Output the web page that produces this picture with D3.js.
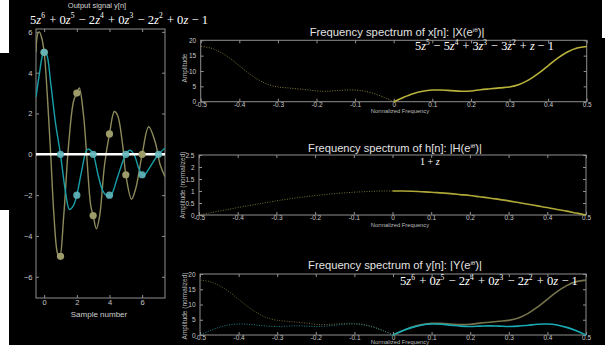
<!DOCTYPE html>
<html>
<head>
<meta charset="utf-8">
<script src="https://cdn.jsdelivr.net/npm/d3@7"></script>
<style>
  html, body { margin: 0; padding: 0; background: #fff; }
  svg { display: block; }
</style>
</head>
<body>
<div id="chart"></div>
<script>
// ---- time domain data ----
const sampleTicks = [0, 2, 4, 6];
const signalTicks = [-6, -4, -2, 0, 2, 4, 6];
const inputSamples = [5, -5, 3, -3, 1, -1, 0];        // x[n]
const outputSamples = [5, 0, -2, 0, -2, 0, -1, 0];    // y[n]

// smooth reconstructions
const inputCurveN = [-0.5, -0.4, -0.3, -0.15, 0, 0.2, 0.4, 0.6, 0.8, 0.95, 1.2, 1.5, 1.8, 2.0, 2.15, 2.4, 2.6, 2.85, 3.0, 3.2, 3.4, 3.7, 4.0, 4.3, 4.5, 4.8, 5.0, 5.35, 5.6, 6.0, 6.4, 6.8, 7.1, 7.4];
const inputCurveV = [5.0, 5.9, 6.0, 5.7, 5.0, 2.8, 0.0, -3.0, -4.8, -5.1, -3.0, 0.5, 2.6, 3.0, 3.25, 2.0, 0.0, -2.5, -3.0, -3.65, -3.0, -0.5, 1.0, 2.1, 1.9, 0.5, -1.0, -2.2, -1.7, 0.0, 1.35, 0.6, -0.5, -1.1];
const outputCurveN = [-0.5, -0.3, -0.1, 0, 0.15, 0.4, 0.7, 1.0, 1.3, 1.55, 1.8, 2.0, 2.3, 2.6, 2.75, 3.0, 3.3, 3.6, 3.9, 4.1, 4.5, 5.0, 5.25, 5.5, 5.8, 6.0, 6.1, 6.5, 7.0, 7.4];
const outputCurveV = [2.8, 3.9, 4.85, 5.0, 4.9, 3.5, 1.5, 0.0, -1.8, -2.7, -2.5, -2.0, -0.8, 0.2, 0.25, 0.0, -1.0, -1.8, -2.05, -2.0, -1.1, 0.0, 0.2, 0.0, -0.7, -1.0, -1.05, -0.6, 0.0, 0.3];

// ---- frequency domain data (positive half, mirrored for negative) ----
const freqTicks = [-0.5, -0.4, -0.3, -0.2, -0.1, 0, 0.1, 0.2, 0.3, 0.4, 0.5];
const ampTicks = [0, 5, 10, 15, 20];
const normTicks = [0, 0.5, 1, 1.5, 2, 2.5];
const freqs = [0, 0.025, 0.05, 0.075, 0.1, 0.125, 0.15, 0.175, 0.2, 0.225, 0.25, 0.275, 0.3, 0.325, 0.35, 0.375, 0.4, 0.425, 0.45, 0.475, 0.5];
const magX = [0, 1.4, 2.6, 3.4, 3.8, 3.8, 3.6, 3.4, 3.5, 3.9, 4.2, 4.5, 4.8, 5.6, 7.1, 9.2, 11.7, 14.2, 16.2, 17.5, 18.0];
const magH = [1, 1.0, 0.99, 0.97, 0.95, 0.92, 0.89, 0.85, 0.81, 0.76, 0.71, 0.65, 0.59, 0.52, 0.45, 0.38, 0.31, 0.23, 0.16, 0.08, 0];
const magY = [0, 1.4, 2.5, 3.3, 3.6, 3.5, 3.2, 2.9, 2.8, 2.9, 3.0, 2.9, 2.8, 2.9, 3.2, 3.5, 3.6, 3.3, 2.5, 1.4, 0];

const W = 605, H = 345;
const sans = "'Liberation Sans', Arial, sans-serif";
const serif = "'Liberation Serif', 'Times New Roman', serif";

const svg = d3.select("#chart").append("svg")
  .attr("width", W).attr("height", H);

svg.append("rect").attr("width", W).attr("height", H).attr("fill", "#000");
// white bits of page showing around the pasted panels
svg.append("rect").attr("x", 0).attr("y", 0).attr("width", 9).attr("height", 53).attr("fill", "#fff");
svg.append("rect").attr("x", 0).attr("y", 210).attr("width", 9).attr("height", 135).attr("fill", "#fff");
svg.append("rect").attr("x", 602).attr("y", 0).attr("width", 3).attr("height", 38).attr("fill", "#fff");

const defs = svg.append("defs");

// polynomial text: z in italic, ^d as superscript, then squeezed into [x0, x1]
function poly(str, x0, x1, cy, size) {
  const t = svg.append("text")
    .attr("x", x0).attr("y", cy + size * 0.33)
    .attr("font-family", serif).attr("font-size", size)
    .attr("fill", "#fff");
  let i = 0;
  while (i < str.length) {
    const c = str[i];
    if (c === "z") {
      t.append("tspan").attr("font-style", "italic").text("z");
      i++;
    } else if (c === "^") {
      t.append("tspan").attr("dy", -size * 0.42).attr("font-size", size * 0.6).text(str[i + 1]);
      t.append("tspan").attr("dy", size * 0.42).text("\u200A");
      i += 2;
    } else {
      let j = i;
      while (j < str.length && str[j] !== "z" && str[j] !== "^") j++;
      t.append("tspan").text(str.slice(i, j));
      i = j;
    }
  }
  const w = t.node().getBBox().width;
  t.attr("font-size", size * (x1 - x0) / w);
  t.selectAll("tspan").each(function () {
    const s = d3.select(this);
    if (s.attr("font-size")) s.attr("font-size", size * 0.6 * (x1 - x0) / w);
  });
  return t;
}

function title(parts, cx, cy, width, size) {
  const t = svg.append("text")
    .attr("x", cx).attr("y", cy + size * 0.35)
    .attr("text-anchor", "middle")
    .attr("font-family", sans).attr("font-size", size)
    .attr("fill", "#e2e2e2");
  t.append("tspan").text(parts[0]);
  t.append("tspan").attr("dy", -size * 0.38).attr("font-size", size * 0.55).text(parts[1]);
  t.append("tspan").attr("dy", size * 0.38).text(parts[2]);
  const w = t.node().getBBox().width;
  const k = width / w;
  t.attr("font-size", size * k);
  t.select("tspan:nth-child(2)").attr("font-size", size * 0.55 * k);
  return t;
}

// box with inward ticks on all four sides
function boxAxes(g, x, y, xt, yt, xfmt, yfmt, fs, xpad, ypad) {
  const [x0, x1] = x.range();
  const [y0, y1] = y.range();
  const axisCol = "#8f8f8f";
  g.append("g").attr("transform", `translate(0,${y0})`)
    .call(d3.axisBottom(x).tickValues(xt).tickSizeInner(-3).tickSizeOuter(0).tickPadding(xpad).tickFormat(xfmt));
  g.append("g").attr("transform", `translate(0,${y1})`)
    .call(d3.axisTop(x).tickValues(xt).tickSizeInner(-3).tickSizeOuter(0).tickFormat(""));
  g.append("g").attr("transform", `translate(${x0},0)`)
    .call(d3.axisLeft(y).tickValues(yt).tickSizeInner(-3).tickSizeOuter(0).tickPadding(ypad).tickFormat(yfmt));
  g.append("g").attr("transform", `translate(${x1},0)`)
    .call(d3.axisRight(y).tickValues(yt).tickSizeInner(-3).tickSizeOuter(0).tickFormat(""));
  g.selectAll(".domain").remove();
  g.selectAll(".tick line").attr("stroke", axisCol);
  g.selectAll(".tick text").attr("fill", "#c8c8c8").attr("font-family", sans).attr("font-size", fs);
  g.append("rect").attr("x", x0).attr("y", y1).attr("width", x1 - x0).attr("height", y0 - y1)
    .attr("fill", "none").attr("stroke", axisCol).attr("stroke-width", 1);
}

// ---------- left panel: output signal ----------
const xs = d3.scaleLinear().domain([-0.5, 7.4]).range([36, 165]);
const ys = d3.scaleLinear().domain([-7.04, 6.14]).range([298, 29]);
const left = svg.append("g");

defs.append("clipPath").attr("id", "clipL").append("rect")
  .attr("x", 36).attr("y", 29).attr("width", 129).attr("height", 269);

boxAxes(left, xs, ys, sampleTicks, signalTicks, d3.format("d"), d3.format("d"), 7.5, 2, 3.5);

const tline = d3.line().x(d => xs(d[0])).y(d => ys(d[1])).curve(d3.curveCatmullRom.alpha(0.5));
const plotL = left.append("g").attr("clip-path", "url(#clipL)");
plotL.append("path").datum(d3.zip(inputCurveN, inputCurveV)).attr("d", tline)
  .attr("fill", "none").attr("stroke", "#8d8b5c").attr("stroke-width", 1.4);
plotL.append("path").datum(d3.zip(outputCurveN, outputCurveV)).attr("d", tline)
  .attr("fill", "none").attr("stroke", "#17a0aa").attr("stroke-width", 1.4);
plotL.append("line").attr("x1", xs(-0.5)).attr("x2", xs(7.4)).attr("y1", ys(0)).attr("y2", ys(0))
  .attr("stroke", "#fff").attr("stroke-width", 2.5);

plotL.selectAll(".dotx").data(inputSamples).enter().append("circle")
  .attr("cx", (d, i) => xs(i)).attr("cy", d => ys(d)).attr("r", 3.6)
  .attr("fill", "#9d9b69");
plotL.selectAll(".doty").data(outputSamples).enter().append("circle")
  .attr("cx", (d, i) => xs(i)).attr("cy", d => ys(d)).attr("r", 3.6)
  .attr("fill", "#62b7bd").attr("fill-opacity", 0.9);

left.append("text").attr("x", 97).attr("y", 8).attr("text-anchor", "middle")
  .attr("font-family", sans).attr("font-size", 7.5).attr("fill", "#d4d4d4").text("Output signal y[n]");
left.append("text").attr("x", 99).attr("y", 317).attr("text-anchor", "middle")
  .attr("font-family", sans).attr("font-size", 8).attr("fill", "#cfcfcf").text("Sample number");

// ---------- frequency panels ----------
const ffmt = d => d === 0 ? "0" : d.toFixed(1);
const posF = freqs;
const negF = freqs.map(f => -f);

function freqPanel(cfg) {
  const g = svg.append("g");
  const x = d3.scaleLinear().domain([-0.5, 0.5]).range([cfg.l, cfg.r]);
  const y = d3.scaleLinear().domain(cfg.yDomain).range([cfg.b, cfg.t]);
  boxAxes(g, x, y, freqTicks, cfg.yTicks, ffmt, d3.format("~g"), 6.5, 0.5, 4.5);

  const line = d3.line().x(d => x(d[0])).y(d => y(d[1])).curve(d3.curveCatmullRom.alpha(0.5));
  cfg.series.forEach(s => {
    g.append("path").datum(d3.zip(negF, s.values)).attr("d", line)
      .attr("fill", "none").attr("stroke", s.dim).attr("stroke-width", 1)
      .attr("stroke-dasharray", "1,1.5");
  });
  cfg.series.forEach(s => {
    g.append("path").datum(d3.zip(posF, s.values)).attr("d", line)
      .attr("fill", "none").attr("stroke", s.color).attr("stroke-width", 1.6);
  });

  g.append("text").attr("x", 400).attr("y", Math.min(cfg.b + 11.5, 344))
    .attr("text-anchor", "middle")
    .attr("font-family", sans).attr("font-size", 5.8).attr("fill", "#bdbdbd").text("Normalized Frequency");
  g.append("text").attr("transform", `translate(${cfg.yl},${cfg.ylc}) rotate(-90)`)
    .attr("text-anchor", "middle").attr("dy", "0.35em")
    .attr("font-family", sans).attr("font-size", 6.5).attr("fill", "#bdbdbd").text(cfg.ylabel);
}

freqPanel({
  l: 200.7, r: 586.7, t: 40.3, b: 101.7, yDomain: [0, 20], yTicks: ampTicks,
  yl: 185, ylc: 68, ylabel: "Amplitude",
  series: [{ values: magX, color: "#b8b23a", dim: "#857d3a" }]
});
freqPanel({
  l: 199, r: 586, t: 155, b: 215, yDomain: [0, 2.5], yTicks: normTicks,
  yl: 182.7, ylc: 185, ylabel: "Amplitude (normalized)",
  series: [{ values: magH, color: "#ada838", dim: "#757030" }]
});
freqPanel({
  l: 200, r: 586, t: 274, b: 335, yDomain: [0, 20], yTicks: ampTicks,
  yl: 185, ylc: 306, ylabel: "Amplitude (normalized)",
  series: [
    { values: magX, color: "#77734d", dim: "#6d6635" },
    { values: magY, color: "#19a9b3", dim: "#1f8088" }
  ]
});

// titles and polynomials
title(["Frequency spectrum of x[n]: |X(e", "i\u03B8", ")|"], 397, 32, 175, 11);
title(["Frequency spectrum of h[n]: |H(e", "i\u03B8", ")|"], 395, 148, 174, 11);
title(["Frequency spectrum of y[n]: |Y(e", "i\u03B8", ")|"], 395, 265, 174, 11);

poly("5z^6 + 0z^5 \u2212 2z^4 + 0z^3 \u2212 2z^2 + 0z \u2212 1", 30, 208, 19, 14);
poly("5z^5 \u2212 5z^4 + 3z^3 \u2212 3z^2 + z \u2212 1", 415, 554, 46.5, 12);
poly("1 + z", 420, 440, 161.5, 12);
poly("5z^6 + 0z^5 \u2212 2z^4 + 0z^3 \u2212 2z^2 + 0z \u2212 1", 400, 578, 281.5, 12);
</script>
</body>
</html>
